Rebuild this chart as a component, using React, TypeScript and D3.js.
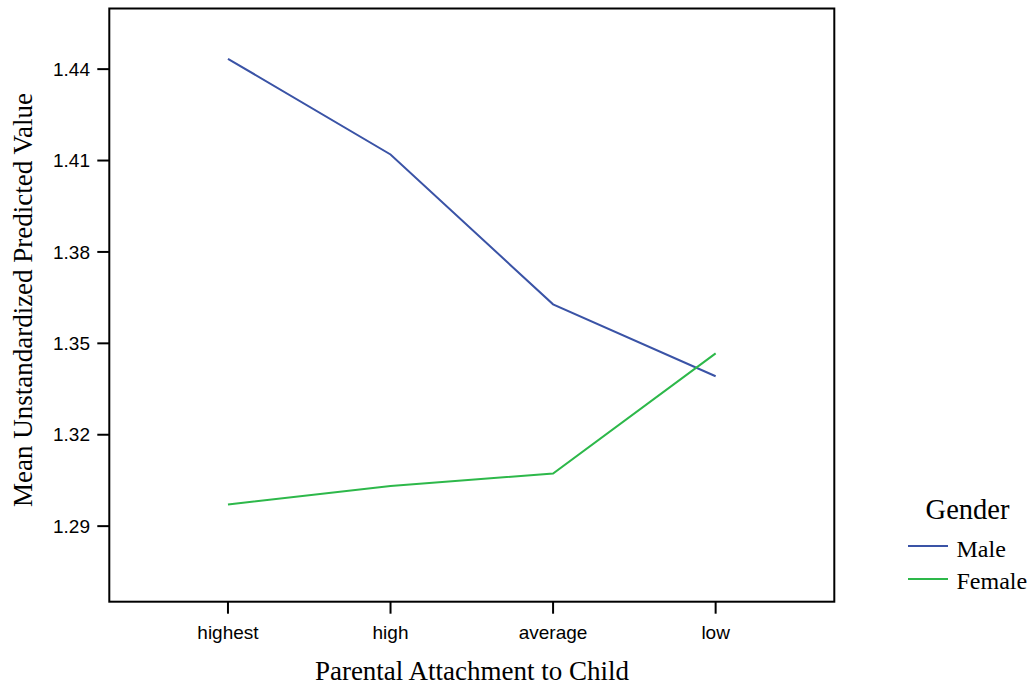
import React from "react";
import * as d3 from "d3";

const categories = ["highest", "high", "average", "low"];
const maleValues = [1.4434, 1.412, 1.3628, 1.3392];
const femaleValues = [1.2971, 1.3032, 1.3073, 1.3467];
const yTicks = [1.29, 1.32, 1.35, 1.38, 1.41, 1.44];
const seriesNames = ["Male", "Female"];
const seriesColors = ["#3a53a6", "#2db84a"];

export default function App() {
  const W = 1032, H = 687;
  const left = 109.3, right = 834.3, top = 8.5, bottom = 601.7;
  const x = d3.scalePoint<string>().domain(categories).range([left, right]).padding(0.73);
  const y = d3.scaleLinear().domain([1.2652, 1.4599]).range([bottom, top]);
  const line = d3.line<number>().x((_, i) => x(categories[i]) as number).y(d => y(d));
  const series = [maleValues, femaleValues];
  const sans = "Helvetica, Arial, 'Liberation Sans', sans-serif";
  const serif = "'Times New Roman', 'Liberation Serif', serif";
  return (
    <svg width={W} height={H} style={{ position: "absolute", left: 0, top: 0, background: "#fff" }}>
      <rect x={left} y={top} width={right - left} height={bottom - top} fill="none" stroke="#000" strokeWidth={2} />
      {yTicks.map(t => (
        <g key={t}>
          <line x1={left - 12} x2={left} y1={y(t)} y2={y(t)} stroke="#000" strokeWidth={2} />
          <text x={90} y={y(t)} dy="0.35em" textAnchor="end" fontFamily={sans} fontSize={19} fill="#000">{t.toFixed(2)}</text>
        </g>
      ))}
      {categories.map(c => (
        <g key={c}>
          <line x1={x(c)} x2={x(c)} y1={bottom} y2={bottom + 12} stroke="#000" strokeWidth={2} />
          <text x={x(c)} y={bottom + 37} textAnchor="middle" fontFamily={sans} fontSize={19} fill="#000">{c}</text>
        </g>
      ))}
      {series.map((s, i) => (
        <path key={i} d={line(s) || ""} fill="none" stroke={seriesColors[i]} strokeWidth={2} />
      ))}
      <text x={472} y={680} textAnchor="middle" fontFamily={serif} fontSize={27} fill="#000">Parental Attachment to Child</text>
      <text transform={`translate(32, 300) rotate(-90)`} textAnchor="middle" fontFamily={serif} fontSize={27} fill="#000">Mean Unstandardized Predicted Value</text>
      <text x={967.5} y={519} textAnchor="middle" fontFamily={serif} fontSize={28.5} fill="#000">Gender</text>
      {seriesNames.map((n, i) => (
        <g key={n}>
          <line x1={908} x2={948} y1={546 + i * 33} y2={546 + i * 33} stroke={seriesColors[i]} strokeWidth={2} />
          <text x={956.5} y={556.5 + i * 32} fontFamily={serif} fontSize={24} fill="#000">{n}</text>
        </g>
      ))}
    </svg>
  );
}
